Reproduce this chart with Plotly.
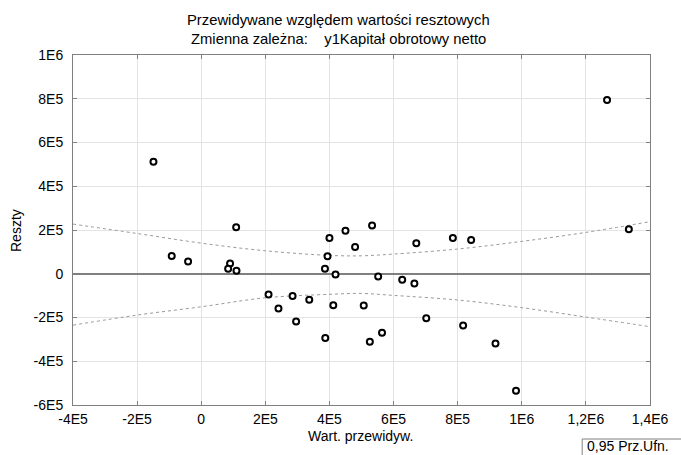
import plotly.graph_objects as go

# Predicted values (x) and residuals (y)
pred = [-1.49e5, -0.92e5, -0.41e5, 1.09e5, 0.90e5, 0.84e5, 1.10e5, 2.10e5, 2.41e5, 2.85e5,
        2.96e5, 3.37e5, 3.86e5, 3.87e5, 3.94e5, 4.00e5, 4.12e5, 4.19e5, 4.50e5, 4.80e5,
        5.07e5, 5.26e5, 5.33e5, 5.52e5, 5.64e5, 6.27e5, 6.65e5, 6.71e5, 7.02e5, 7.85e5,
        8.17e5, 8.42e5, 9.18e5, 9.82e5, 12.66e5, 13.34e5]
resid = [5.12e5, 0.81e5, 0.56e5, 2.13e5, 0.47e5, 0.23e5, 0.14e5, -0.95e5, -1.59e5, -1.02e5,
         -2.18e5, -1.19e5, 0.23e5, -2.94e5, 0.80e5, 1.63e5, -1.44e5, -0.03e5, 1.97e5, 1.22e5,
         -1.45e5, -3.11e5, 2.21e5, -0.12e5, -2.70e5, -0.27e5, -0.44e5, 1.39e5, -2.03e5, 1.63e5,
         -2.36e5, 1.54e5, -3.19e5, -5.35e5, 7.94e5, 2.04e5]

# 0.95 confidence band
band_x = [-4e5, -2e5, 0, 2e5, 4e5, 5e5, 6e5, 8e5, 1e6, 1.2e6, 1.4e6]
band_upper = [2.27e5, 1.84e5, 1.40e5, 1.05e5, 0.84e5, 0.82e5, 0.90e5, 1.13e5, 1.48e5, 1.89e5, 2.38e5]
band_lower = [-2.35e5, -1.89e5, -1.51e5, -1.10e5, -0.94e5, -0.90e5, -0.99e5, -1.20e5, -1.55e5, -1.98e5, -2.42e5]

x_tickvals = [-4e5, -2e5, 0, 2e5, 4e5, 6e5, 8e5, 1e6, 1.2e6, 1.4e6]
x_ticktext = ["-4E5", "-2E5", "0", "2E5", "4E5", "6E5", "8E5", "1E6", "1,2E6", "1,4E6"]
y_tickvals = [-6e5, -4e5, -2e5, 0, 2e5, 4e5, 6e5, 8e5, 1e6]
y_ticktext = ["-6E5", "-4E5", "-2E5", "0", "2E5", "4E5", "6E5", "8E5", "1E6"]

FONT = "Liberation Sans, Arial, sans-serif"
W, H = 681, 455
L, R, T, B = 73, 21, 55, 50
PW, PH = W - L - R, H - T - B


def px(xp):
    return (xp - L) / PW


def py(yp):
    return (H - B - yp) / PH


fig = go.Figure()
for band in (band_upper, band_lower):
    fig.add_trace(go.Scatter(x=band_x, y=band, mode="lines", line_shape="spline",
                             line=dict(color="#999999", width=1, dash="dot"),
                             hoverinfo="skip", showlegend=False))
fig.add_trace(go.Scatter(x=pred, y=resid, mode="markers", showlegend=False,
                         marker=dict(symbol="circle", size=6, color="white",
                                     line=dict(color="black", width=2))))

axis_common = dict(showline=True, linecolor="#808080", linewidth=1, mirror="ticks",
                   ticks="inside", ticklen=4, tickcolor="#808080",
                   showgrid=True, gridcolor="#e4e4e4", gridwidth=1,
                   tickfont=dict(family=FONT, size=14, color="black"))

fig.update_layout(
    width=W, height=H,
    margin=dict(l=L, r=R, t=T, b=B),
    paper_bgcolor="white", plot_bgcolor="white",
    font=dict(family=FONT, size=14, color="black"),
    xaxis=dict(range=[-4e5, 1.4e6], tickvals=x_tickvals, ticktext=x_ticktext,
               zeroline=False, ticklabelstandoff=1, **axis_common),
    yaxis=dict(range=[-6e5, 1e6], tickvals=y_tickvals, ticktext=y_ticktext,
               zeroline=True, zerolinecolor="#808080", zerolinewidth=1.5,
               ticklabelstandoff=6, **axis_common),
    shapes=[
        dict(type="rect", xref="paper", yref="paper",
             x0=px(591), x1=px(700), y0=py(439), y1=py(470),
             line=dict(color="#808080", width=1), fillcolor="white", layer="above"),
    ],
    annotations=[
        dict(text="Przewidywane względem wartości resztowych", xref="paper", yref="paper",
             x=px(343), y=py(20), xanchor="center", yanchor="middle", showarrow=False,
             font=dict(family=FONT, size=14.8)),
        dict(text="Zmienna zależna:    y1Kapitał obrotowy netto", xref="paper", yref="paper",
             x=px(343), y=py(39), xanchor="center", yanchor="middle", showarrow=False,
             font=dict(family=FONT, size=14.8)),
        dict(text="Wart. przewidyw.", xref="paper", yref="paper",
             x=px(365), y=py(436), xanchor="center", yanchor="middle", showarrow=False,
             font=dict(family=FONT, size=14)),
        dict(text="Reszty", xref="paper", yref="paper", textangle=-90,
             x=px(15), y=0.5, xanchor="center", yanchor="middle", showarrow=False,
             font=dict(family=FONT, size=14)),
        dict(text="0,95 Prz.Ufn.", xref="paper", yref="paper",
             x=px(595), y=py(446), xanchor="left", yanchor="middle", showarrow=False,
             borderpad=0, font=dict(family=FONT, size=14)),
    ],
)

fig.write_html("out.html")
